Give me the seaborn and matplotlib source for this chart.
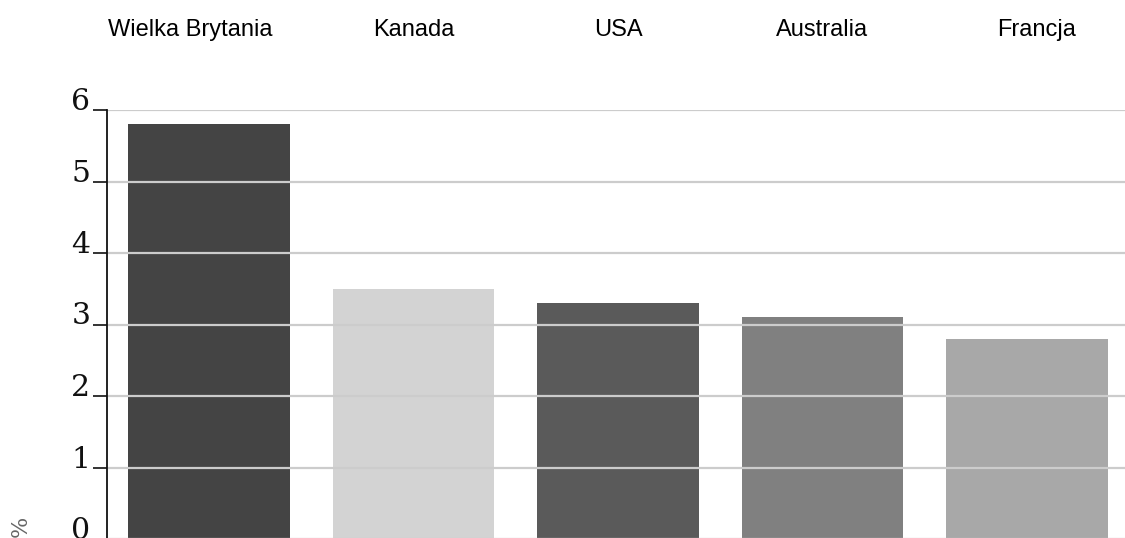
import matplotlib
matplotlib.use("Agg")
import matplotlib.pyplot as plt
import matplotlib.transforms as mtransforms
import seaborn as sns
import pandas as pd

countries = ["Wielka Brytania", "Kanada", "USA", "Australia", "Francja"]
values = [5.8, 3.5, 3.3, 3.1, 2.8]
colors = ["#444444", "#d3d3d3", "#5a5a5a", "#808080", "#a8a8a8"]
yticks = [0, 1, 2, 3, 4, 5, 6]
unit_label = "%"

df = pd.DataFrame({"country": countries, "value": values})

sns.set_style("white")
fig = plt.figure(figsize=(11.25, 5.38), dpi=100)
W, H = 1125, 538
ax = fig.add_axes([107 / W, -1 / H, (W - 107) / W, 429 / H])

sns.barplot(data=df, x="country", y="value", hue="country",
            palette=colors, legend=False, width=0.79, ax=ax, zorder=2,
            linewidth=0)

ax.set_ylim(0, 6)
ax.set_xlim(-0.5, 4.48)
ax.set_yticks(yticks)
ax.set_yticklabels([str(t) for t in yticks], family="DejaVu Serif",
                   fontsize=21.5, color="#111111")
for lbl in ax.get_yticklabels():
    lbl.set_verticalalignment("baseline")
ax.tick_params(axis="y", length=10, width=1.2, color="#111111", pad=2, left=True)

ax.xaxis.tick_top()
ax.tick_params(axis="x", top=False, bottom=False, labeltop=True,
               labelbottom=False, length=0, pad=50)
xlabels = ax.get_xticklabels()
for lbl in xlabels:
    lbl.set_family("Liberation Sans")
    lbl.set_fontsize(17)
    lbl.set_color("#000000")
# first and last labels sit slightly off their bars in the reference
xlabels[0].set_transform(xlabels[0].get_transform() +
                         mtransforms.ScaledTranslation(-0.19, 0, fig.dpi_scale_trans))
xlabels[-1].set_transform(xlabels[-1].get_transform() +
                          mtransforms.ScaledTranslation(0.1, 0, fig.dpi_scale_trans))

ax.set_xlabel("")
ax.set_ylabel("")
ax.grid(False)
for t in yticks:
    ax.axhline(t, color="#cccccc", linewidth=1.6, zorder=3)

for s in ["top", "right", "bottom"]:
    ax.spines[s].set_visible(False)
ax.spines["left"].set_color("#111111")
ax.spines["left"].set_linewidth(1.3)
ax.spines["left"].set_zorder(4)

fig.text(21 / W, 1 - 526 / H, unit_label, rotation=90, ha="center",
         va="center", fontsize=16, color="#666666", family="DejaVu Serif")

fig.savefig("out.png", dpi=100)
